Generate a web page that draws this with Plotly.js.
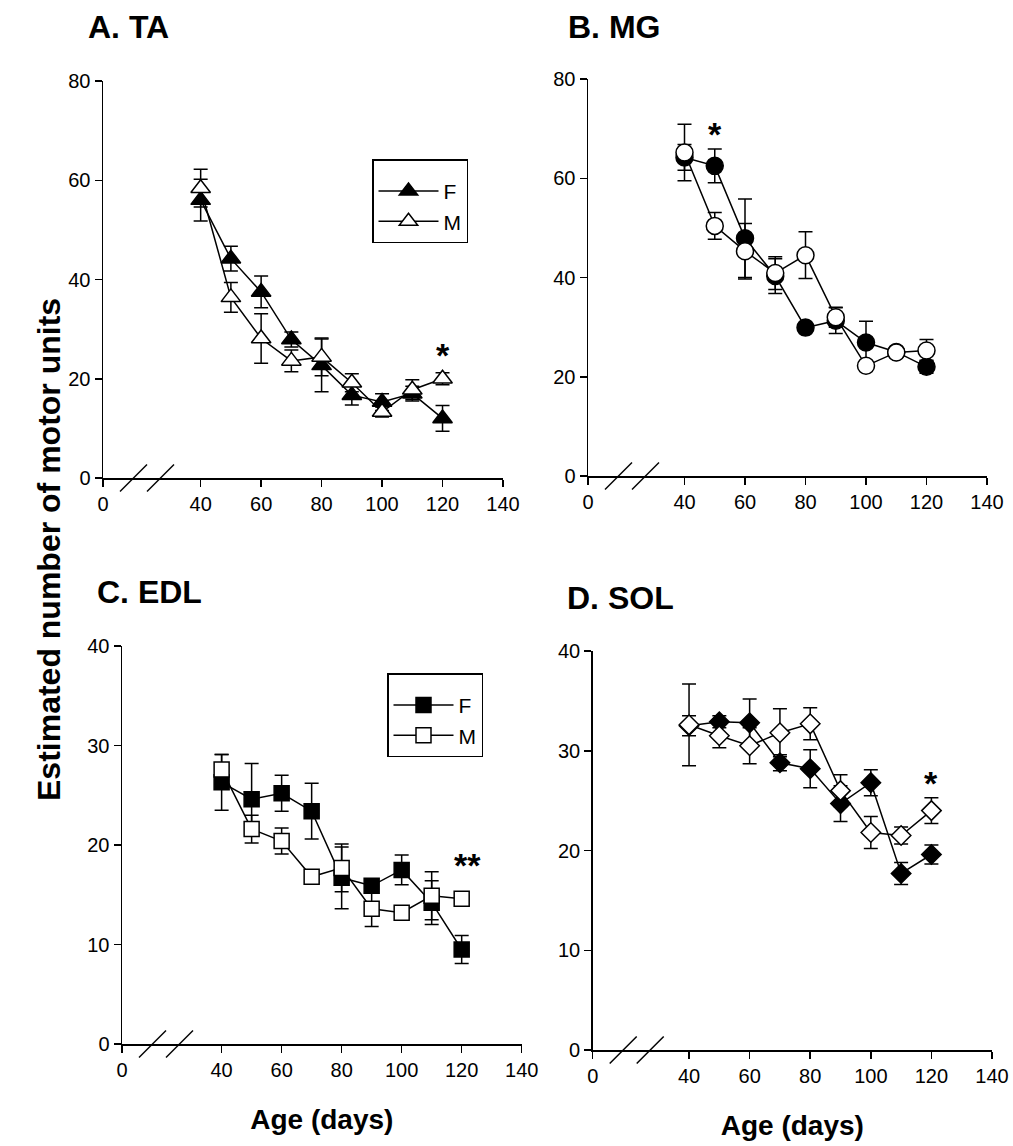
<!DOCTYPE html>
<html>
<head>
<meta charset="utf-8">
<script src="https://cdn.plot.ly/plotly-3.0.1.min.js"></script>
<style>html,body{margin:0;padding:0;background:#fff;}#chart{width:1013px;height:1146px;}</style>
</head>
<body>
<div id="chart"></div>
<script>
// ---- data ----
const ages = [40, 50, 60, 70, 80, 90, 100, 110, 120];

const taF    = [56.0, 44.2, 37.5, 27.9, 22.7, 16.7, 15.3, 17.0, 12.0];
const taFerr = [4.2, 2.5, 3.2, 1.5, 5.3, 2.0, 1.7, 1.5, 2.6];
const taM    = [58.4, 36.4, 28.1, 23.6, 24.4, 19.2, 13.3, 17.8, 20.0];
const taMerr = [3.8, 3.0, 5.0, 2.2, 3.8, 1.8, 1.0, 2.0, 1.2];

const mgF    = [64.2, 62.5, 47.9, 40.3, 29.9, 31.3, 26.9, 25.0, 22.0];
const mgFerr = [2.6, 3.4, 7.9, 3.5, 0.8, 2.6, 4.3, 0.8, 1.3];
const mgM    = [65.2, 50.4, 45.3, 40.9, 44.5, 32.0, 22.2, 24.9, 25.3];
const mgMerr = [5.7, 2.7, 5.6, 3.3, 4.7, 2.0, 1.0, 0.8, 2.2];

const edlF    = [26.3, 24.6, 25.2, 23.4, 16.7, 15.9, 17.5, 14.2, 9.5];
const edlFerr = [2.8, 3.6, 1.8, 2.8, 3.1, 0.6, 1.5, 2.2, 1.4];
const edlM    = [27.6, 21.6, 20.4, 16.8, 17.7, 13.6, 13.2, 14.9, 14.6];
const edlMerr = [1.5, 1.4, 1.3, 0.5, 2.4, 1.8, 0.5, 2.4, 0.5];

const solF    = [32.5, 32.9, 32.8, 28.8, 28.2, 24.7, 26.8, 17.7, 19.6];
const solFerr = [1.0, 0.6, 2.4, 0.8, 1.9, 1.8, 1.3, 1.1, 0.95];
const solM    = [32.6, 31.5, 30.5, 31.8, 32.7, 26.0, 21.8, 21.5, 24.0];
const solMerr = [4.1, 1.2, 1.8, 2.4, 1.6, 1.6, 1.6, 0.85, 1.3];

// significance marks: [age, value, label]
const sigTA  = [120, 26.7, '*'];
const sigMG  = [50, 70.7, '*'];
const sigEDL = [122, 18.9, '**'];
const sigSOL = [120, 27.7, '*'];

const panelTitles = ['A. TA', 'B. MG', 'C. EDL', 'D. SOL'];
const xTickLabels = ['0', '40', '60', '80', '100', '120', '140'];
const xTickValues = [40, 60, 80, 100, 120, 140];
const yTicksTop = [0, 20, 40, 60, 80];
const yTicksBottom = [0, 10, 20, 30, 40];
const seriesNames = ['F', 'M'];

// ---- styling ----
const FONT = 'Arial, "Liberation Sans", sans-serif';
const BLACK = '#000';
const W = 1013, H = 1146;

// axis start (position of the broken-axis "0") per panel
const xStart = {x: 7.7, x2: 8.1, x3: 6.8, x4: 8.2};
// plot-area domains (paper fractions)
const dom = {
  x:  [103 / W, 503 / W],   y:  [(H - 478) / H, (H - 81) / H],
  x2: [588 / W, 987 / W],   y2: [(H - 476) / H, (H - 79) / H],
  x3: [122 / W, 521.7 / W], y3: [(H - 1044) / H, (H - 646) / H],
  x4: [592.7 / W, 992 / W], y4: [(H - 1050) / H, (H - 651) / H]
};

function trace(y, err, filled, symbol, size, xa, ya, legend, showlegend, name) {
  return {
    x: ages, y: y, type: 'scatter', mode: 'lines+markers', name: name,
    xaxis: xa, yaxis: ya, legend: legend, showlegend: showlegend,
    line: {color: BLACK, width: 1.5},
    marker: {symbol: symbol, size: size, color: filled ? BLACK : '#fff',
             line: {color: BLACK, width: 1.5}},
    error_y: {type: 'data', array: err, visible: true, color: BLACK,
              thickness: 1.5, width: 7}
  };
}

const data = [
  trace(taF, taFerr, true, 'triangle-up', 17, 'x', 'y', 'legend', true, seriesNames[0]),
  trace(taM, taMerr, false, 'triangle-up', 17, 'x', 'y', 'legend', true, seriesNames[1]),
  trace(mgF, mgFerr, true, 'circle', 17, 'x2', 'y2', 'legend', false, seriesNames[0]),
  trace(mgM, mgMerr, false, 'circle', 17, 'x2', 'y2', 'legend', false, seriesNames[1]),
  trace(edlF, edlFerr, true, 'square', 15, 'x3', 'y3', 'legend2', true, seriesNames[0]),
  trace(edlM, edlMerr, false, 'square', 15, 'x3', 'y3', 'legend2', true, seriesNames[1]),
  trace(solF, solFerr, true, 'diamond', 15, 'x4', 'y4', 'legend', false, seriesNames[0]),
  trace(solM, solMerr, false, 'diamond', 15, 'x4', 'y4', 'legend', false, seriesNames[1])
];

function xaxis(key, anchor) {
  return {
    domain: dom[key], anchor: anchor, range: [xStart[key], 140],
    tickvals: [xStart[key]].concat(xTickValues), ticktext: xTickLabels,
    showline: true, linecolor: BLACK, linewidth: 1.5,
    ticks: 'outside', ticklen: 7, tickwidth: 1.5, tickcolor: BLACK,
    showgrid: false, zeroline: false,
    tickfont: {family: FONT, size: 20, color: BLACK}
  };
}
function yaxis(key, anchor, range, ticks) {
  return {
    domain: dom[key], anchor: anchor, range: range, tickvals: ticks,
    showline: true, linecolor: BLACK, linewidth: 1.5,
    ticks: 'outside', ticklen: 7, tickwidth: 1.5, tickcolor: BLACK,
    showgrid: false, zeroline: false,
    tickfont: {family: FONT, size: 20, color: BLACK}
  };
}

// axis-break slashes, anchored at each axis origin, sized in pixels (not clipped)
function breaks(xa, ya) {
  const out = [];
  [[17, 44], [44, 71]].forEach(function (p) {
    out.push({type: 'line', xref: 'paper', yref: 'paper',
              xsizemode: 'pixel', ysizemode: 'pixel',
              xanchor: dom[xa][0], yanchor: dom[ya][0],
              x0: p[0], x1: p[1], y0: -13.5, y1: 13.5,
              line: {color: BLACK, width: 1.5}});
  });
  return out;
}

function sig(s, xa, ya) {
  return {x: s[0], y: s[1], xref: xa, yref: ya, text: '<b>' + s[2] + '</b>', showarrow: false,
          yshift: -9, font: {family: FONT, size: 34, color: BLACK}};
}
function title(text, x, y) {
  return {x: x, y: y, xref: 'paper', yref: 'paper', xanchor: 'left', yanchor: 'middle',
          text: '<b>' + text + '</b>', showarrow: false,
          font: {family: FONT, size: 32, color: BLACK}};
}
function legendBox(x, yTop) {
  return {x: x, y: yTop, xanchor: 'left', yanchor: 'top',
          bordercolor: BLACK, borderwidth: 1.5, bgcolor: '#fff',
          entrywidth: 104, entrywidthmode: 'pixels', itemwidth: 60,
          title: {text: ' ', font: {size: 8}},
          font: {family: FONT, size: 21, color: BLACK}, tracegroupgap: 0};
}
const xTitle = {text: '<b>Age (days)</b>', font: {family: FONT, size: 28, color: BLACK}, standoff: 30};

const layout = {
  width: W, height: H,
  margin: {l: 0, r: 0, t: 0, b: 0},
  paper_bgcolor: '#fff', plot_bgcolor: '#fff',
  font: {family: FONT, color: BLACK},
  xaxis:  xaxis('x', 'y'),
  yaxis:  yaxis('y', 'x', [0, 80], yTicksTop),
  xaxis2: xaxis('x2', 'y2'),
  yaxis2: yaxis('y2', 'x2', [0, 80], yTicksTop),
  xaxis3: Object.assign(xaxis('x3', 'y3'), {title: xTitle}),
  yaxis3: yaxis('y3', 'x3', [0, 40], yTicksBottom),
  xaxis4: Object.assign(xaxis('x4', 'y4'), {title: xTitle}),
  yaxis4: yaxis('y4', 'x4', [0, 40], yTicksBottom),
  legend:  legendBox(372 / W, (H - 159) / H),
  legend2: legendBox(387 / W, (H - 673) / H),
  shapes: [].concat(breaks('x', 'y'), breaks('x2', 'y2'), breaks('x3', 'y3'), breaks('x4', 'y4')),
  annotations: [
    title(panelTitles[0], 86 / W, (H - 27) / H),
    title(panelTitles[1], 566 / W, (H - 27) / H),
    title(panelTitles[2], 95 / W, (H - 592) / H),
    title(panelTitles[3], 565 / W, (H - 598) / H),
    sig(sigTA, 'x', 'y'), sig(sigMG, 'x2', 'y2'), sig(sigEDL, 'x3', 'y3'), sig(sigSOL, 'x4', 'y4'),
    {x: 29 / W, y: (H - 550) / H, xref: 'paper', yref: 'paper', textangle: -90,
     text: '<b>Estimated number of motor units</b>', showarrow: false,
     font: {family: FONT, size: 32, color: BLACK}}
  ],
  showlegend: true
};

Plotly.newPlot('chart', data, layout, {displayModeBar: false, staticPlot: true});
</script>
</body>
</html>
